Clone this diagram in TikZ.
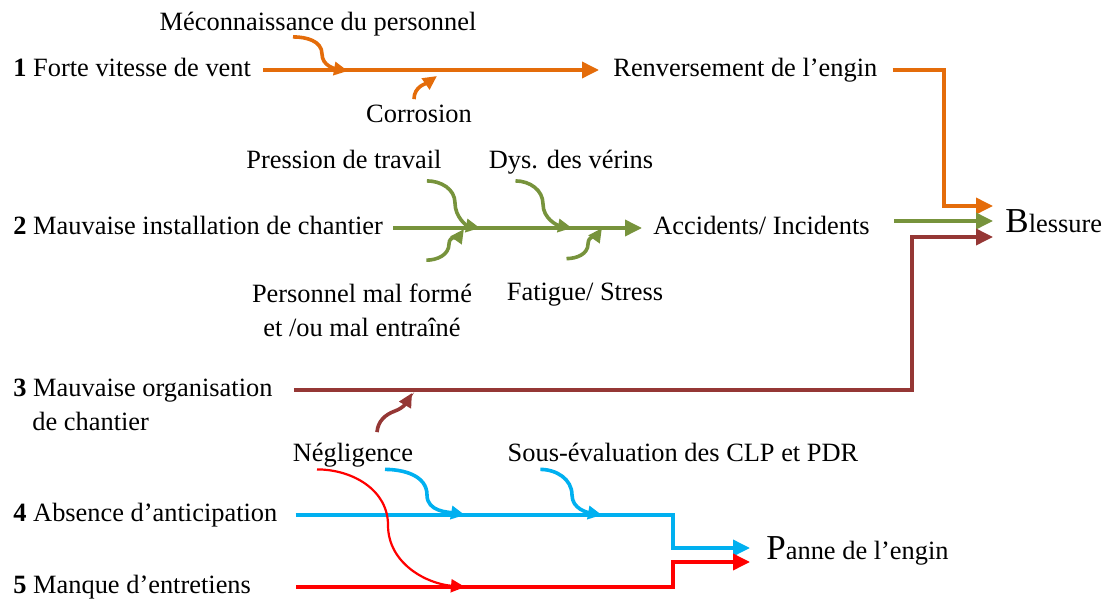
\documentclass[tikz,border=0pt]{standalone}
\usepackage{fontspec}
\setmainfont{Liberation Serif}
\usepackage{tikz}
\usetikzlibrary{arrows.meta,positioning}
\definecolor{RiskOrange}{RGB}{228,108,10}
\definecolor{RiskGreen}{RGB}{119,147,60}
\definecolor{RiskBrown}{RGB}{149,55,53}
\definecolor{RiskBlue}{RGB}{0,176,240}
\definecolor{RiskRed}{RGB}{255,0,0}

\begin{document}
\begin{tikzpicture}[x=0.5pt,y=-0.5pt,
  lbl/.style={font=\fontsize{13.2}{17}\selectfont,inner sep=0pt,
              text height=9.5pt,text depth=3pt},
  lbltwo/.style={font=\fontsize{13.2}{17}\selectfont,inner sep=0pt,align=center},
  flow/.style={line width=1.8pt,-{Triangle[length=8.5pt,width=8pt]}},
  twig/.style={line width=1.8pt,-{Triangle[length=7pt,width=6.5pt]}},
]
\useasboundingbox (0,0) rectangle (1103,599);
% 1 --- Renversement de l'engin
\node[lbl,anchor=west] (c1) at (13,70) {\textbf{1} Forte vitesse de vent};
\node[lbl,anchor=west] (e1) at (613,70) {Renversement de l’engin};
\node[lbl] (mec) at (318,24) {Méconnaissance du personnel};
\node[lbl] (cor) at (419,116) {Corrosion};
\coordinate (m1) at (348,71);
\coordinate (m2) at (437,76);
\draw[flow,RiskOrange,shorten <=6pt,shorten >=7pt] (c1.east) -- (e1.west);
\draw[twig,RiskOrange] ([xshift=-12.5pt]mec.south) to[out=0,in=90] (322,54)
  to[out=-90,in=170] (m1);
\draw[twig,RiskOrange] ([xshift=-2.5pt,yshift=2pt]cor.north) to[out=90,in=215] (m2);
% 2 --- Accidents/ Incidents
\node[lbl,anchor=west] (c2) at (13,228) {\textbf{2} Mauvaise installation de chantier};
\node[lbl,anchor=west] (e2) at (653,228) {Accidents/ Incidents};
\node[lbl] (pres) at (344,162) {Pression de travail};
\node[lbl] (dys) at (571,162) {Dys. des vérins};
\node[lbltwo] (pers) at (362,310) {Personnel mal formé\\et /ou mal entraîné};
\node[lbl] (fat) at (585,294) {Fatigue/ Stress};
\coordinate (g1) at (480,228);
\coordinate (g2) at (464,229);
\coordinate (g3) at (572,228);
\coordinate (g4) at (602,228);
\draw[flow,RiskGreen,shorten <=5pt,shorten >=5.5pt] (c2.east) -- (e2.west);
\draw[twig,RiskGreen] ([xshift=-7.5pt,yshift=-3pt]pres.south east) to[out=0,in=90] (455,203)
  to[out=-90,in=170] (g1);
\draw[twig,RiskGreen] ([xshift=-23pt,yshift=11.5pt]pers.north east) to[out=0,in=-90] (449,244)
  to[out=90,in=235] (g2);
\draw[twig,RiskGreen] ([xshift=13.5pt,yshift=-3pt]dys.south west) to[out=0,in=90] (543,204)
  to[out=-90,in=170] (g3);
\draw[twig,RiskGreen] ([xshift=30pt,yshift=11.25pt]fat.north west) to[out=0,in=-90] (588,244)
  to[out=90,in=235] (g4);
% 3 --- Mauvaise organisation
\node[lbl,anchor=west] (c3) at (13,390) {\textbf{3} Mauvaise organisation};
\node[lbl,anchor=west] (c3b) at (32,424) {de chantier};
\node[lbl] (neg) at (353,455) {Négligence};
\coordinate (n1) at (412,393);
% Blessure
\node[lbl,anchor=west] (bl) at (1005,226) {{\fontsize{17.5}{18}\selectfont B}lessure};
\coordinate (ko) at (944,206);
\coordinate (kb) at (912,237);
\coordinate (bo) at (993,206);
\coordinate (bg) at (993,221);
\coordinate (bb) at (993,237);
\draw[flow,RiskOrange,shorten <=7.5pt] (e1.east) -| (ko) -- (bo);
\draw[flow,RiskGreen,shorten <=12pt] (e2.east |- bg) -- (bg);
\draw[flow,RiskBrown,shorten <=10.5pt] (c3.east) -| (kb) -- (bb);
\draw[twig,RiskBrown] ([xshift=12pt,yshift=5pt]neg.north) to[out=85,in=200] (395,411)
  to[out=20,in=240] (n1);
% 4, 5 --- Panne de l'engin
\node[lbl,anchor=west] (c4) at (13,515) {\textbf{4} Absence d’anticipation};
\node[lbl,anchor=west] (c5) at (13,587) {\textbf{5} Manque d’entretiens};
\node[lbl] (sous) at (683,455) {Sous-évaluation des CLP et PDR};
\node[lbl,anchor=west] (pan) at (766,553) {{\fontsize{17.5}{18}\selectfont P}anne de l’engin};
\coordinate (b1) at (465,515);
\coordinate (b2) at (602,515);
\coordinate (r1) at (465,587);
\coordinate (k4) at (673,548);
\coordinate (k5) at (673,562);
\coordinate (pb) at (750,548);
\coordinate (pr) at (750,562);
\draw[flow,RiskBlue,shorten <=9pt] (c4.east) -| (k4) -- (pb);
\draw[flow,RiskRed,shorten <=22.5pt] (c5.east) -| (k5) -- (pr);
\draw[twig,RiskBlue] ([xshift=16pt,yshift=-0.75pt]neg.south) to[out=0,in=90] (427,495)
  to[out=-90,in=170] (b1);
\draw[twig,RiskBlue] ([xshift=16.5pt,yshift=-0.75pt]sous.south west) to[out=0,in=90] (572,495)
  to[out=-90,in=170] (b2);
\draw[RiskRed,line width=1.1pt,-{Triangle[length=7pt,width=6.5pt]}] ([xshift=-18pt,yshift=-0.75pt]neg.south)
  to[out=0,in=90] (388,525) to[out=-90,in=175] (r1);
\end{tikzpicture}
\end{document}
